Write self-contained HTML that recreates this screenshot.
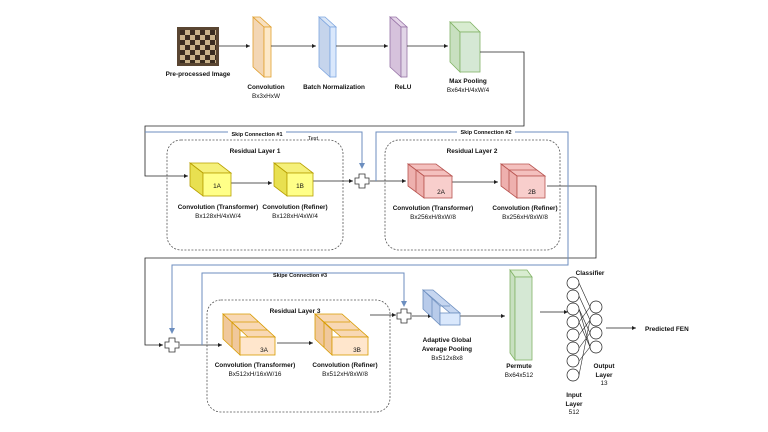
<!DOCTYPE html>
<html><head><meta charset="utf-8"><style>
body{margin:0;background:#fff}
svg{display:block}
text{font-family:"Liberation Sans",sans-serif;font-size:6.4px;fill:#111}
.b{font-weight:bold}
</style></head><body>
<svg width="768" height="432" viewBox="0 0 768 432" xmlns="http://www.w3.org/2000/svg">
<defs>
<marker id="a" markerWidth="6" markerHeight="6" refX="5" refY="3" orient="auto"><path d="M0,0.5 L5,3 L0,5.5z" fill="#222"/></marker>
<marker id="ab" markerWidth="8" markerHeight="8" refX="5" refY="3" orient="auto"><path d="M0,0 L6,3 L0,6z" fill="#6c8ebf"/></marker>
<pattern id="cb" width="10" height="10" patternUnits="userSpaceOnUse"><rect width="10" height="10" fill="#c9b28a"/><rect width="5" height="5" fill="#3a2c20"/><rect x="5" y="5" width="5" height="5" fill="#3a2c20"/></pattern>
</defs>
<rect x="177" y="27" width="42" height="39" fill="#5a4632"/>
<rect x="180" y="30" width="36" height="33" fill="url(#cb)"/>
<text x="198" y="76" text-anchor="middle" class="b">Pre-processed Image</text>
<polygon points="253,17 264,27 264,77 253,67" fill="#f3d6b4" stroke="#e0a030" stroke-width="0.8"/>
<polygon points="253,17 260,17 271,27 264,27" fill="#f8e0c0" stroke="#e0a030" stroke-width="0.8"/>
<rect x="264" y="27" width="7" height="50" fill="#fde8c8" stroke="#e0a030" stroke-width="0.8"/>
<text x="266" y="89" text-anchor="middle" class="b">Convolution</text>
<text x="266" y="98" text-anchor="middle">Bx3xHxW</text>
<polygon points="319,17 330,27 330,77 319,67" fill="#c5d4ec" stroke="#7ea6e0" stroke-width="0.8"/>
<polygon points="319,17 325,17 336,27 330,27" fill="#dae6f6" stroke="#7ea6e0" stroke-width="0.8"/>
<rect x="330" y="27" width="6" height="50" fill="#dae8fc" stroke="#7ea6e0" stroke-width="0.8"/>
<text x="334" y="89" text-anchor="middle" class="b">Batch Normalization</text>
<polygon points="390,17 401,27 401,77 390,67" fill="#d6c2dc" stroke="#9673a6" stroke-width="0.8"/>
<polygon points="390,17 396,17 407,27 401,27" fill="#e4d4e8" stroke="#9673a6" stroke-width="0.8"/>
<rect x="401" y="27" width="6" height="50" fill="#e1d5e7" stroke="#9673a6" stroke-width="0.8"/>
<text x="403" y="89" text-anchor="middle" class="b">ReLU</text>
<polygon points="450,22 460,32 460,72 450,62" fill="#c8e0c0" stroke="#82b366" stroke-width="0.8"/>
<polygon points="450,22 470,22 480,32 460,32" fill="#d8ecd0" stroke="#82b366" stroke-width="0.8"/>
<rect x="460" y="32" width="20" height="40" fill="#d5e8d4" stroke="#82b366" stroke-width="0.8"/>
<text x="468" y="83" text-anchor="middle" class="b">Max Pooling</text>
<text x="468" y="92" text-anchor="middle">Bx64xH/4xW/4</text>
<g stroke="#222" stroke-width="0.8" fill="none">
<line x1="219" y1="46" x2="250" y2="46" marker-end="url(#a)"/>
<line x1="271" y1="46" x2="316" y2="46" marker-end="url(#a)"/>
<line x1="336" y1="46" x2="388" y2="46" marker-end="url(#a)"/>
<line x1="407" y1="46" x2="448" y2="46" marker-end="url(#a)"/>
<polyline points="480,52 524,52 524,126 145,126 145,176 188,176" marker-end="url(#a)"/>
<line x1="231" y1="183" x2="272" y2="183" marker-end="url(#a)"/>
<line x1="313" y1="181" x2="353" y2="181" marker-end="url(#a)"/>
<line x1="370" y1="181" x2="406" y2="181" marker-end="url(#a)"/>
<line x1="452" y1="182" x2="498" y2="182" marker-end="url(#a)"/>
<polyline points="547,186 596,186 596,258 145,258 145,345 163,345" marker-end="url(#a)"/>
<line x1="180" y1="345" x2="222" y2="345" marker-end="url(#a)"/>
<line x1="277" y1="343" x2="313" y2="343" marker-end="url(#a)"/>
<line x1="370" y1="315" x2="396" y2="315" marker-end="url(#a)"/>
<line x1="412" y1="316" x2="432" y2="316" marker-end="url(#a)"/>
<line x1="460" y1="316" x2="505" y2="316" marker-end="url(#a)"/>
<line x1="540" y1="312" x2="568" y2="312" marker-end="url(#a)"/>
<line x1="606" y1="328" x2="636" y2="328" marker-end="url(#a)"/>
</g>
<g fill="none" stroke="#555" stroke-width="0.8" stroke-dasharray="2,1.5">
<rect x="167" y="140" width="176" height="110" rx="14"/>
<rect x="385" y="140" width="175" height="110" rx="14"/>
<rect x="207" y="300" width="183" height="112" rx="14"/>
</g>
<g stroke="#6c8ebf" stroke-width="1" fill="none">
<polyline points="145,132 362,132 362,168" marker-end="url(#ab)"/>
<polyline points="376,181 376,132 568,132 568,265 172,265 172,333" marker-end="url(#ab)"/>
<polyline points="202,345 202,273 404,273 404,306" marker-end="url(#ab)"/>
</g>
<rect x="228" y="130" width="58" height="7" fill="#fff"/>
<text x="257" y="136" text-anchor="middle" class="b" style="font-size:5.5px">Skip Connection #1</text>
<text x="313" y="140" text-anchor="middle" style="font-size:5.5px">Text</text>
<rect x="457" y="128" width="58" height="7" fill="#fff"/>
<text x="486" y="134" text-anchor="middle" class="b" style="font-size:5.5px">Skip Connection #2</text>
<text x="300" y="277" text-anchor="middle" class="b" style="font-size:5.5px">Skipe Connection #3</text>
<g fill="#fff" stroke="#333" stroke-width="0.8">
<path d="M359,174 h6 v4 h4 v6 h-4 v4 h-6 v-4 h-4 v-6 h4z"/>
<path d="M169,338 h6 v4 h4 v6 h-4 v4 h-6 v-4 h-4 v-6 h4z"/>
<path d="M401,309 h6 v4 h4 v6 h-4 v4 h-6 v-4 h-4 v-6 h4z"/>
</g>
<text x="255" y="153" text-anchor="middle" class="b">Residual Layer 1</text>
<text x="472" y="153" text-anchor="middle" class="b">Residual Layer 2</text>
<text x="295" y="313" text-anchor="middle" class="b">Residual Layer 3</text>
<g stroke="#b8a000" stroke-width="0.8">
<polygon points="190,163 218,163 231,173 203,173" fill="#f5f07a"/>
<polygon points="190,163 203,173 203,196 190,186" fill="#e8e050"/>
<rect x="203" y="173" width="28" height="23" fill="#ffff88"/>
<polygon points="274,163 300,163 313,173 287,173" fill="#f5f07a"/>
<polygon points="274,163 287,173 287,196 274,186" fill="#e8e050"/>
<rect x="287" y="173" width="26" height="23" fill="#ffff88"/>
</g>
<text x="217" y="188" text-anchor="middle">1A</text>
<text x="300" y="188" text-anchor="middle">1B</text>
<text x="218" y="209" text-anchor="middle" class="b">Convolution (Transformer)</text>
<text x="218" y="218" text-anchor="middle">Bx128xH/4xW/4</text>
<text x="295" y="209" text-anchor="middle" class="b">Convolution (Refiner)</text>
<text x="295" y="218" text-anchor="middle">Bx128xH/4xW/4</text>
<g stroke="#b85450" stroke-width="0.8" fill="#f8cecc">
<polygon points="408,164 436,164 452,176 424,176" fill="#f4c0be"/>
<polygon points="408,164 424,176 424,198 408,186" fill="#eeb0ae"/>
<rect x="424" y="176" width="28" height="22"/>
<line x1="416" y1="170" x2="416" y2="192"/><line x1="416" y1="170" x2="444" y2="170"/>
<polygon points="501,164 529,164 545,176 517,176" fill="#f4c0be"/>
<polygon points="501,164 517,176 517,198 501,186" fill="#eeb0ae"/>
<rect x="517" y="176" width="28" height="22"/>
<line x1="509" y1="170" x2="509" y2="192"/><line x1="509" y1="170" x2="537" y2="170"/>
</g>
<text x="441" y="194" text-anchor="middle">2A</text>
<text x="532" y="194" text-anchor="middle">2B</text>
<text x="433" y="210" text-anchor="middle" class="b">Convolution (Transformer)</text>
<text x="433" y="219" text-anchor="middle">Bx256xH/8xW/8</text>
<text x="525" y="210" text-anchor="middle" class="b">Convolution (Refiner)</text>
<text x="525" y="219" text-anchor="middle">Bx256xH/8xW/8</text>
<g stroke="#d79b00" stroke-width="0.8" fill="#ffe6cc">
<polygon points="223,314 250,314 275,337 248,337" fill="#f8d8b4"/>
<polygon points="223,314 240,330 240,355 223,339" fill="#f0c89c"/>
<rect x="240" y="337" width="35" height="18"/>
<line x1="232" y1="322" x2="232" y2="347"/><line x1="232" y1="322" x2="258" y2="322"/>
<line x1="240" y1="330" x2="267" y2="330"/>
<polygon points="315,314 342,314 368,337 341,337" fill="#f8d8b4"/>
<polygon points="315,314 332,330 332,355 315,339" fill="#f0c89c"/>
<rect x="332" y="337" width="36" height="18"/>
<line x1="324" y1="322" x2="324" y2="347"/><line x1="324" y1="322" x2="350" y2="322"/>
<line x1="332" y1="330" x2="359" y2="330"/>
</g>
<text x="264" y="352" text-anchor="middle">3A</text>
<text x="357" y="352" text-anchor="middle">3B</text>
<text x="255" y="367" text-anchor="middle" class="b">Convolution (Transformer)</text>
<text x="255" y="376" text-anchor="middle">Bx512xH/16xW/16</text>
<text x="345" y="367" text-anchor="middle" class="b">Convolution (Refiner)</text>
<text x="345" y="376" text-anchor="middle">Bx512xH/8xW/8</text>
<g stroke="#6c8ebf" stroke-width="0.8" fill="#dae8fc">
<polygon points="423,290 433,290 460,313 450,313" fill="#c6d6f0"/>
<polygon points="423,290 440,306 440,325 423,309" fill="#b8cbea"/>
<rect x="440" y="313" width="20" height="12"/>
<line x1="432" y1="298" x2="432" y2="317"/><line x1="440" y1="306" x2="450" y2="306"/>
</g>
<text x="447" y="342" text-anchor="middle" class="b">Adaptive Global</text>
<text x="447" y="351" text-anchor="middle" class="b">Average Pooling</text>
<text x="447" y="360" text-anchor="middle">Bx512x8x8</text>
<polygon points="510,270 515,277 515,360 510,353" fill="#c8e0c0" stroke="#82b366" stroke-width="0.8"/>
<polygon points="510,270 527,270 532,277 515,277" fill="#d8ecd0" stroke="#82b366" stroke-width="0.8"/>
<rect x="515" y="277" width="17" height="83" fill="#d5e8d4" stroke="#82b366" stroke-width="0.8"/>
<text x="519" y="368" text-anchor="middle" class="b">Permute</text>
<text x="519" y="377" text-anchor="middle">Bx64x512</text>
<g stroke="#222" stroke-width="0.6">
<line x1="579" y1="283" x2="590" y2="307"/><line x1="579" y1="296" x2="590" y2="320"/>
<line x1="579" y1="309" x2="590" y2="333"/><line x1="579" y1="322" x2="590" y2="347"/>
<line x1="579" y1="322" x2="590" y2="307"/><line x1="579" y1="335" x2="590" y2="320"/>
<line x1="579" y1="348" x2="590" y2="333"/><line x1="579" y1="361" x2="590" y2="347"/>
<line x1="579" y1="375" x2="590" y2="320"/><line x1="579" y1="309" x2="590" y2="347"/>
</g>
<g fill="#fff" stroke="#222" stroke-width="0.7">
<circle cx="573" cy="283" r="6"/><circle cx="573" cy="296" r="6"/><circle cx="573" cy="309" r="6"/><circle cx="573" cy="322" r="6"/>
<circle cx="573" cy="335" r="6"/><circle cx="573" cy="348" r="6"/><circle cx="573" cy="361" r="6"/><circle cx="573" cy="375" r="6"/>
<circle cx="596" cy="307" r="6"/><circle cx="596" cy="320" r="6"/><circle cx="596" cy="333" r="6"/><circle cx="596" cy="347" r="6"/>
</g>
<text x="590" y="275" text-anchor="middle" class="b">Classifier</text>
<text x="604" y="368" text-anchor="middle" class="b">Output</text>
<text x="604" y="377" text-anchor="middle" class="b">Layer</text>
<text x="604" y="385" text-anchor="middle">13</text>
<text x="574" y="397" text-anchor="middle" class="b">Input</text>
<text x="574" y="406" text-anchor="middle" class="b">Layer</text>
<text x="574" y="414" text-anchor="middle">512</text>
<text x="645" y="331" class="b">Predicted FEN</text>
</svg>
</body></html>
